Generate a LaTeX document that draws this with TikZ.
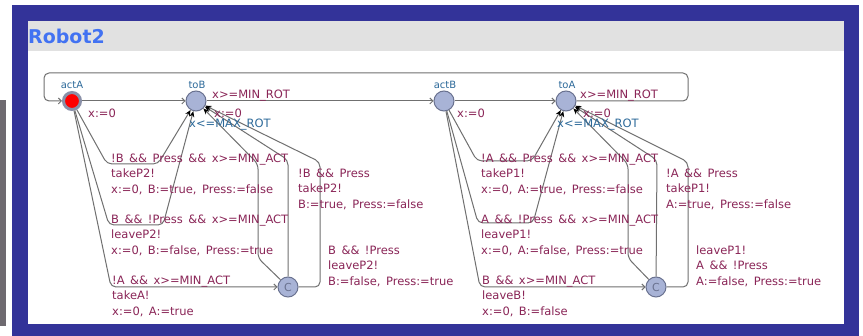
\documentclass[tikz,border=0pt]{standalone}
\usepackage{fontspec}
\setmainfont[WordSpace=1.5]{DejaVu Sans}
\usetikzlibrary{arrows.meta}
\definecolor{frameblue}{HTML}{333399}
\definecolor{titlegray}{HTML}{E1E1E1}
\definecolor{titleblue}{HTML}{4272F2}
\definecolor{stripgray}{HTML}{6E6A70}
\definecolor{locfill}{HTML}{A8B3D6}
\definecolor{locborder}{HTML}{6A7290}
\definecolor{ringgray}{HTML}{8A90A8}
\definecolor{edgegray}{HTML}{707070}
\definecolor{lblcol}{HTML}{8A2557}
\definecolor{namecol}{HTML}{2D6A9A}
\tikzset{
  loc/.style={circle, draw=locborder, fill=locfill, line width=1pt, minimum size=20pt, inner sep=0pt},
  initloc/.style={circle, draw=ringgray, fill=red, line width=3pt, minimum size=17pt, inner sep=0pt},
  edge/.style={draw=edgegray, line width=1pt, rounded corners=5pt},
  darktip/.style={-{Stealth[length=6pt,width=5pt,color=black]}},
  barbtip/.style={-{Straight Barb[length=3pt,width=6pt]}},
  lbl/.style={font=\fontsize{11.5}{15.5}\selectfont, text=lblcol, inner sep=0pt, anchor=west, align=left},
  inv/.style={font=\fontsize{11.5}{15.5}\selectfont, text=namecol, inner sep=0pt, anchor=west},
  lname/.style={font=\fontsize{10}{11}\selectfont, text=namecol, inner sep=0pt}
}
\begin{document}
\begin{tikzpicture}[x=1pt,y=-1pt]
\useasboundingbox (0,0) rectangle (863,336);
\fill[white] (0,0) rectangle (863,336);
\fill[stripgray] (0,100) rectangle (6,326);
\fill[frameblue] (12,5) rectangle (859,336);
\fill[titlegray] (28,21) rectangle (844,51);
\fill[white] (28,51) rectangle (844,324);
\node[anchor=west, inner sep=0pt, text=titleblue, font=\fontsize{19}{22}\selectfont\bfseries] (title) at (28,36) {Robot2};

% locations
\node[initloc] (actA) at (72,101) {};
\node[loc] (toB) at (196,101) {};
\node[loc] (actB) at (444,101) {};
\node[loc] (toA) at (566,101) {};
\node[loc, font=\fontsize{11}{12}\selectfont, text=locborder] (C1) at (288,287) {C};
\node[loc, font=\fontsize{11}{12}\selectfont, text=locborder] (C2) at (656,287) {C};

\node[lname] (nactA) at (72,85) {actA};
\node[lname] (ntoB) at (197,85) {toB};
\node[lname] (nactB) at (445,85) {actB};
\node[lname] (ntoA) at (567,85) {toA};

% top loop and horizontal edges
\draw[edge, barbtip] (toA) -- (688,101) -- (688,73) -- (44,73) -- (44,101) -- (actA);
\draw[edge, barbtip] (actA) -- (toB);
\draw[edge, barbtip] (toB) -- (actB);
\draw[edge, barbtip] (actB) -- (toA);

% left half edges
\draw[edge, darktip] (actA) -- (107,164) -- (158,164) -- (toB);
\draw[edge, darktip] (actA) -- (109,225) -- (163,225) -- (toB);
\draw[edge, barbtip] (actA) -- (111,287) -- (C1);
\draw[edge, darktip] (C1) -- (258,258) -- (258,164) -- (toB);
\draw[edge, darktip] (C1) -- (288,160) -- (toB);
\draw[edge, darktip] (C1) -- (320,287) -- (320,162) -- (toB);

% right half edges
\draw[edge, darktip] (actB) -- (477,161) -- (532,161) -- (toA);
\draw[edge, darktip] (actB) -- (478,223) -- (533,223) -- (toA);
\draw[edge, barbtip] (actB) -- (480,287) -- (C2);
\draw[edge, darktip] (C2) -- (628,258) -- (628,164) -- (toA);
\draw[edge, darktip] (C2) -- (657,160) -- (toA);
\draw[edge, darktip] (C2) -- (688,287) -- (688,162) -- (toA);

% labels near top
\node[lbl] (l1) at (88,113) {x:=0};
\node[lbl] (l2) at (212,96) {x>=MIN\_ROT};
\node[lbl] (l3) at (214,113) {x:=0};
\node[inv] (l4) at (189,125) {x<=MAX\_ROT};
\node[lbl] (l5) at (457,113) {x:=0};
\node[lbl] (l6) at (580,96) {x>=MIN\_ROT};
\node[lbl] (l7) at (583,113) {x:=0};
\node[inv] (l8) at (557,125) {x<=MAX\_ROT};

% left half edge labels
\node[lbl] (e1) at (111,174) {!B \&\& Press \&\& x>=MIN\_ACT\\takeP2!\\x:=0, B:=true, Press:=false};
\node[lbl] (e2) at (111,235) {B \&\& !Press \&\& x>=MIN\_ACT\\leaveP2!\\x:=0, B:=false, Press:=true};
\node[lbl] (e3) at (112,296) {!A \&\& x>=MIN\_ACT\\takeA!\\x:=0, A:=true};
\node[lbl] (e5) at (298,189) {!B \&\& Press\\takeP2!\\B:=true, Press:=false};
\node[lbl] (e6) at (328,266) {B \&\& !Press\\leaveP2!\\B:=false, Press:=true};

% right half edge labels
\node[lbl] (f1) at (481,174) {!A \&\& Press \&\& x>=MIN\_ACT\\takeP1!\\x:=0, A:=true, Press:=false};
\node[lbl] (f2) at (481,235) {A \&\& !Press \&\& x>=MIN\_ACT\\leaveP1!\\x:=0, A:=false, Press:=true};
\node[lbl] (f3) at (482,296) {B \&\& x>=MIN\_ACT\\leaveB!\\x:=0, B:=false};
\node[lbl] (f5) at (666,189) {!A \&\& Press\\takeP1!\\A:=true, Press:=false};
\node[lbl] (f6) at (696,266) {leaveP1!\\A \&\& !Press\\A:=false, Press:=true};
\end{tikzpicture}
\end{document}
